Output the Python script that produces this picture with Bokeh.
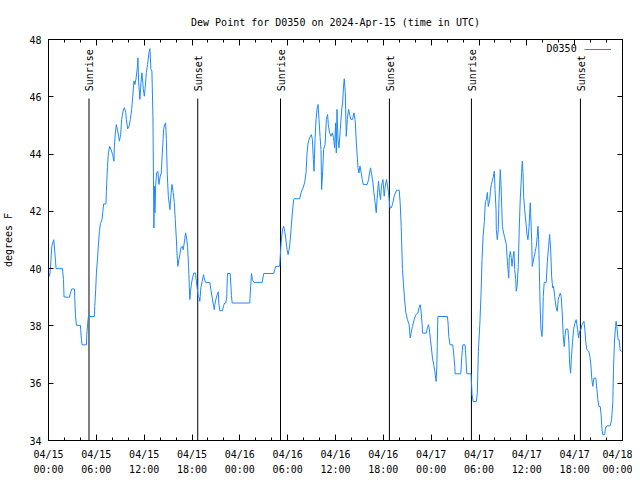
import math
from bokeh.plotting import figure
from bokeh.models import Range1d, FixedTicker, LinearAxis, Label, Legend, LegendItem
from bokeh.embed import file_html
from bokeh.resources import INLINE
from bokeh.core.properties import value

# ---- data (hours since 2024-04-15 00:00 UTC, dew point in degrees F) ----
hours = [
    0.13, 0.25, 0.41, 0.66, 0.75, 0.88, 0.95, 1.75, 1.88, 1.95,
    2.63, 2.75, 2.92, 3.26, 3.29, 3.38, 3.51, 4.01, 4.04, 4.13,
    4.21, 4.76, 4.80, 4.92, 5.01, 5.76, 5.80, 5.92, 6.01, 6.14,
    6.26, 6.39, 6.51, 6.71, 6.84, 6.92, 7.21, 7.26, 7.39, 7.51,
    7.68, 7.84, 8.05, 8.21, 8.26, 8.39, 8.51, 8.64, 8.80, 8.89,
    9.05, 9.18, 9.34, 9.52, 9.68, 9.77, 9.93, 10.09, 10.27, 10.43,
    10.56, 10.72, 10.84, 10.97, 11.14, 11.22, 11.31, 11.47, 11.60, 11.72,
    11.90, 12.02, 12.15, 12.27, 12.43, 12.60, 12.72, 12.85, 12.97, 13.10,
    13.22, 13.31, 13.35, 13.44, 13.56, 13.72, 13.85, 14.02, 14.15, 14.22,
    14.35, 14.44, 14.56, 14.69, 14.78, 14.90, 15.03, 15.15, 15.23, 15.35,
    15.48, 15.65, 15.78, 15.90, 16.03, 16.15, 16.23, 16.35, 16.48, 16.60,
    16.78, 16.90, 17.03, 17.19, 17.32, 17.44, 17.57, 17.66, 17.73, 17.82,
    17.94, 18.07, 18.23, 18.44, 18.57, 18.70, 18.78, 18.91, 18.98, 19.11,
    19.28, 19.45, 19.53, 19.70, 20.24, 20.36, 20.54, 20.70, 20.79, 20.86,
    20.99, 21.16, 21.29, 21.36, 21.49, 21.83, 21.95, 22.11, 22.24, 22.36,
    22.45, 22.79, 22.95, 23.04, 25.24, 25.29, 25.46, 25.58, 25.75, 26.80,
    26.92, 27.00, 28.25, 28.38, 28.50, 29.00, 29.05, 29.18, 29.34, 29.50,
    29.63, 29.75, 29.93, 30.05, 30.22, 30.34, 30.47, 30.59, 30.75, 30.80,
    31.51, 31.68, 31.93, 32.13, 32.31, 32.43, 32.56, 32.76, 32.97, 33.10,
    33.22, 33.31, 33.43, 33.56, 33.68, 33.81, 33.93, 34.06, 34.18, 34.26,
    34.39, 34.51, 34.69, 34.85, 35.01, 35.10, 35.26, 35.44, 35.60, 35.76,
    35.89, 36.01, 36.10, 36.19, 36.31, 36.44, 36.60, 36.76, 36.89, 37.01,
    37.10, 37.23, 37.35, 37.48, 37.64, 37.77, 37.94, 38.14, 38.32, 38.48,
    38.61, 38.73, 38.82, 38.94, 39.07, 39.19, 39.36, 39.48, 39.98, 40.15,
    40.27, 40.40, 40.57, 40.70, 40.82, 40.95, 41.11, 41.27, 41.40, 41.52,
    41.65, 41.77, 41.95, 42.11, 42.24, 42.40, 42.53, 42.65, 42.83, 42.99,
    43.15, 43.36, 43.65, 43.99, 44.11, 44.24, 44.40, 44.53, 44.65, 44.83,
    45.03, 45.24, 45.37, 45.49, 45.65, 45.87, 46.08, 46.33, 46.49, 46.62,
    46.74, 46.87, 46.91, 47.41, 47.53, 47.66, 47.78, 47.91, 48.03, 48.16,
    48.33, 48.46, 48.62, 48.71, 48.84, 50.04, 50.12, 50.21, 50.37, 50.71,
    50.84, 50.96, 51.00, 51.72, 51.84, 51.97, 52.25, 52.34, 52.47, 53.01,
    53.04, 53.13, 53.26, 53.67, 53.79, 53.92, 54.10, 54.26, 54.38, 54.51,
    54.67, 54.80, 54.92, 55.05, 55.17, 55.35, 55.42, 55.55, 55.80, 55.92,
    56.01, 56.14, 56.17, 56.30, 56.42, 56.51, 56.67, 56.76, 56.93, 57.01,
    57.22, 57.43, 57.51, 57.64, 57.73, 57.80, 57.93, 58.05, 58.14, 58.26,
    58.39, 58.48, 58.60, 58.68, 58.80, 58.93, 59.05, 59.18, 59.35, 59.43,
    59.52, 59.60, 59.73, 59.89, 60.02, 60.14, 60.27, 60.36, 60.43, 60.52,
    60.61, 60.68, 60.81, 60.93, 61.06, 61.18, 61.31, 61.40, 61.48, 61.56,
    61.65, 61.77, 61.90, 61.98, 62.06, 62.18, 62.43, 62.56, 62.73, 62.86,
    62.98, 63.11, 63.24, 63.36, 63.49, 63.65, 63.81, 63.94, 64.06, 64.19,
    64.31, 64.44, 64.56, 64.69, 64.78, 64.90, 65.15, 65.28, 65.36, 65.49,
    65.61, 65.74, 65.86, 66.03, 66.19, 66.37, 66.49, 66.62, 66.78, 66.91,
    67.03, 67.16, 67.28, 67.41, 67.53, 67.78, 67.91, 68.03, 68.16, 68.28,
    68.41, 68.66, 68.79, 68.91, 69.04, 69.20, 69.32, 69.41, 69.54, 69.75,
    69.87, 70.04, 70.45, 70.63, 70.79, 70.87, 71.00, 71.13, 71.20, 71.33,
    71.45, 71.58, 71.70, 71.85,
]
dew_point = [
    39.73, 40.02, 40.78, 41.01, 40.72, 40.26, 40.00, 40.00, 39.62, 39.01,
    39.00, 39.15, 39.29, 39.29, 39.00, 38.36, 38.02, 38.02, 37.87, 37.52,
    37.34, 37.34, 37.69, 38.10, 38.33, 38.33, 38.68, 39.27, 39.85, 40.31,
    40.84, 41.30, 41.57, 41.71, 42.06, 42.26, 42.26, 42.70, 43.52, 44.04,
    44.27, 44.16, 43.98, 43.75, 44.27, 44.74, 45.03, 44.86, 44.62, 44.45,
    44.68, 45.21, 45.50, 45.62, 45.46, 45.21, 44.88, 44.95, 45.21, 45.56,
    45.97, 46.55, 46.43, 46.61, 47.01, 47.36, 46.49, 45.91, 46.49, 46.84,
    46.26, 46.02, 46.37, 46.84, 47.13, 47.54, 47.68, 46.96, 46.90, 45.32,
    41.42, 42.88, 41.95, 42.88, 43.34, 43.40, 42.94, 43.23, 43.34, 43.75,
    44.39, 44.86, 45.03, 45.09, 44.51, 43.29, 42.53, 42.24, 42.06, 42.53,
    42.94, 42.65, 42.30, 41.71, 41.07, 40.37, 40.08, 40.31, 40.49, 40.72,
    40.78, 40.66, 40.90, 41.25, 41.07, 40.78, 40.08, 39.38, 38.92, 39.21,
    39.50, 39.67, 39.85, 39.85, 39.50, 39.21, 39.03, 38.98, 38.86, 39.33,
    39.56, 39.79, 39.67, 39.52, 39.52, 39.27, 38.98, 38.71, 38.57, 38.74,
    38.92, 39.09, 39.19, 38.80, 38.53, 38.53, 38.71, 38.80, 38.80, 39.03,
    39.83, 39.83, 39.06, 38.80, 38.80, 39.06, 39.83, 39.62, 39.52, 39.52,
    39.71, 39.83, 39.83, 39.97, 40.08, 40.08, 40.34, 40.90, 41.36, 41.48,
    41.30, 41.07, 40.66, 40.49, 40.72, 41.07, 41.54, 41.95, 42.41, 42.44,
    42.44, 42.65, 42.82, 43.00, 43.37, 44.04, 44.39, 44.57, 44.68, 44.51,
    43.81, 43.40, 44.51, 45.21, 45.56, 45.73, 45.21, 44.62, 44.16, 42.76,
    43.40, 44.16, 44.33, 45.21, 45.38, 45.03, 44.74, 44.62, 44.74, 44.57,
    44.22, 45.09, 44.04, 45.56, 44.51, 44.22, 44.86, 45.50, 45.79, 46.37,
    46.63, 46.14, 44.62, 45.21, 45.56, 45.38, 45.21, 45.21, 45.44, 45.15,
    44.39, 43.93, 43.52, 43.34, 43.58, 43.40, 43.11, 42.94, 42.94, 43.11,
    43.34, 43.52, 43.23, 43.00, 42.65, 42.35, 41.95, 42.65, 43.05, 42.65,
    42.41, 42.88, 43.11, 42.53, 42.88, 43.11, 42.88, 42.65, 42.12, 42.12,
    42.24, 42.53, 42.74, 42.74, 42.31, 41.48, 39.97, 39.44, 38.98, 38.45,
    38.22, 38.04, 37.58, 37.76, 37.98, 38.22, 38.39, 38.45, 38.64, 38.74,
    38.51, 38.04, 37.75, 37.75, 37.94, 38.04, 37.87, 37.52, 37.23, 36.88,
    36.64, 36.41, 36.06, 36.59, 38.33, 38.33, 38.10, 37.63, 37.34, 37.34,
    36.99, 36.59, 36.33, 36.33, 36.93, 37.34, 37.34, 36.99, 36.33, 36.33,
    36.12, 35.59, 35.36, 35.36, 35.66, 37.11, 38.04, 39.15, 40.31, 41.13,
    41.65, 42.34, 42.41, 42.66, 42.17, 42.41, 42.69, 42.94, 43.22, 43.40,
    42.76, 42.06, 41.36, 41.01, 41.36, 42.41, 43.46, 42.94, 41.48, 41.36,
    41.08, 40.84, 40.45, 39.97, 39.67, 40.38, 40.60, 40.38, 40.08, 40.38,
    40.60, 39.97, 39.62, 39.21, 39.44, 40.14, 41.42, 42.47, 43.36, 43.75,
    43.36, 42.53, 42.06, 41.60, 41.19, 41.01, 41.43, 41.95, 42.30, 41.65,
    40.95, 40.08, 40.26, 40.43, 40.60, 40.78, 41.13, 41.48, 41.01, 40.08,
    38.86, 37.87, 37.63, 38.04, 39.03, 39.52, 39.52, 40.20, 40.78, 41.19,
    40.72, 39.73, 39.33, 39.38, 39.03, 38.68, 38.51, 38.92, 39.03, 39.15,
    39.03, 38.45, 37.69, 37.28, 37.63, 37.89, 37.89, 37.40, 36.70, 36.35,
    36.99, 37.46, 37.87, 38.10, 38.22, 37.87, 37.58, 37.81, 37.87, 38.04,
    38.10, 38.16, 37.87, 37.40, 37.17, 37.11, 36.93, 36.64, 36.12, 35.89,
    36.18, 36.18, 35.77, 35.42, 35.19, 35.19, 34.90, 34.43, 34.20, 34.20,
    34.43, 34.51, 34.51, 34.72, 35.36, 36.47, 37.52, 37.98, 38.16, 37.87,
    37.52, 37.52, 37.17, 37.10,
]

sunrise_hours = [5.08, 29.10, 53.05]
sunset_hours = [18.72, 42.76, 66.72]
sun_line_top = 45.94
sun_label_y = 46.19

x_major_ticks = [0, 6, 12, 18, 24, 30, 36, 42, 48, 54, 60, 66, 72]
x_minor_ticks = [2, 4, 8, 10, 14, 16, 20, 22, 26, 28, 32, 34, 38, 40,
                 44, 46, 50, 52, 56, 58, 62, 64, 68, 70]
x_tick_labels = ["04/15\n00:00", "04/15\n06:00", "04/15\n12:00", "04/15\n18:00",
                 "04/16\n00:00", "04/16\n06:00", "04/16\n12:00", "04/16\n18:00",
                 "04/17\n00:00", "04/17\n06:00", "04/17\n12:00", "04/17\n18:00",
                 "04/18\n00:00"]
y_ticks = [34, 36, 38, 40, 42, 44, 46, 48]

FONT = "DejaVu Sans Mono"
FS = "10px"
LINE_COLOR = "#1e88ff"

p = figure(width=632, height=480,
           x_range=Range1d(0, 72), y_range=Range1d(34, 48),
           output_backend="svg", toolbar_location=None,
           title="Dew Point for D0350 on 2024-Apr-15 (time in UTC)",
           min_border_left=47, min_border_right=10,
           min_border_top=39, min_border_bottom=40)
p.background_fill_color = "white"
p.border_fill_color = "white"
p.outline_line_color = "black"
p.outline_line_width = 1
p.xgrid.visible = False
p.ygrid.visible = False

p.title.text_font = FONT
p.title.text_font_size = FS
p.title.text_font_style = "normal"
p.title.text_color = "black"
p.title.align = "center"
p.title.standoff = 24

xticker = FixedTicker(ticks=x_major_ticks, minor_ticks=x_minor_ticks)
yticker = FixedTicker(ticks=y_ticks, minor_ticks=[])

xa = p.xaxis[0]
xa.ticker = xticker
xa.major_label_overrides = {t: l for t, l in zip(x_major_ticks, x_tick_labels)}
ya = p.yaxis[0]
ya.ticker = yticker
ya.axis_label = "degrees F"

for ax in (xa, ya):
    ax.axis_line_color = "black"
    ax.major_tick_line_color = "black"
    ax.minor_tick_line_color = "black"
    ax.major_tick_out = 0
    ax.minor_tick_out = 0
    ax.major_label_text_font = FONT
    ax.major_label_text_font_size = FS
    ax.major_label_text_color = "black"
    ax.axis_label_text_font = FONT
    ax.axis_label_text_font_size = FS
    ax.axis_label_text_font_style = "normal"
    ax.axis_label_text_color = "black"
xa.major_tick_in = 6
xa.minor_tick_in = 3
xa.major_label_standoff = 8
xa.major_label_text_line_height = 1.45
ya.major_tick_in = 5
ya.minor_tick_in = 0
ya.major_label_standoff = 7
ya.axis_label_standoff = 12

# mirrored tick marks on the top and right edges (no labels)
top_ax = LinearAxis(ticker=xticker, major_label_text_font_size="1px",
                    major_label_text_color=None,
                    axis_line_color=None, major_tick_in=6, major_tick_out=0,
                    minor_tick_in=3, minor_tick_out=0,
                    major_tick_line_color="black", minor_tick_line_color="black")
right_ax = LinearAxis(ticker=yticker, major_label_text_font_size="1px",
                      major_label_text_color=None,
                      axis_line_color=None, major_tick_in=5, major_tick_out=0,
                      minor_tick_in=0, minor_tick_out=0,
                      major_tick_line_color="black")
p.add_layout(top_ax, "above")
p.add_layout(right_ax, "right")

# sunrise / sunset markers
p.segment(x0=sunrise_hours, y0=[34] * 3, x1=sunrise_hours, y1=[sun_line_top] * 3,
          line_color="black", line_width=1)
p.segment(x0=sunset_hours, y0=[34] * 3, x1=sunset_hours, y1=[sun_line_top] * 3,
          line_color="black", line_width=1)
p.text(x=sunrise_hours, y=[sun_label_y] * 3, text=["Sunrise"] * 3, angle=math.pi / 2,
       text_align="left", text_baseline="middle", x_offset=1,
       text_font=value(FONT), text_font_size=FS, text_color="black")
p.text(x=sunset_hours, y=[sun_label_y] * 3, text=["Sunset"] * 3, angle=math.pi / 2,
       text_align="left", text_baseline="middle", x_offset=1,
       text_font=value(FONT), text_font_size=FS, text_color="black")

r = p.line(hours, dew_point, line_color=LINE_COLOR, line_width=1)

legend = Legend(items=[LegendItem(label=" ", renderers=[r])], location=(536, 386),
                border_line_color=None, background_fill_alpha=0, padding=0, margin=0,
                spacing=0, glyph_width=27, glyph_height=10, label_standoff=0,
                label_width=0, label_height=10, label_text_font_size="10px",
                label_text_color=None)
p.add_layout(legend)
p.add_layout(Label(x=66.25, y=47.69, text="D0350", text_align="right",
                   text_baseline="middle", text_font=FONT, text_font_size=FS,
                   text_color="black"))

open("out.html", "w").write(file_html(p, INLINE))
